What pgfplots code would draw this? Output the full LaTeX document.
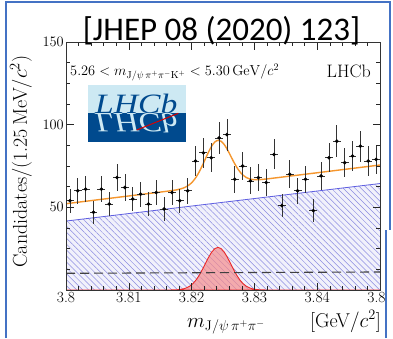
\documentclass[border=0pt]{standalone}
\usepackage{fontspec}
\usepackage{pgfplots}
\pgfplotsset{compat=1.18}
\usepackage{pgfplotstable}
\usetikzlibrary{patterns.meta}
\newfontfamily\titlefont{Carlito}
\newfontfamily\logofont{Liberation Serif}
\definecolor{framblue}{RGB}{68,114,196}
\definecolor{fitorange}{RGB}{245,150,45}
\definecolor{bkgblue}{RGB}{95,95,225}
\definecolor{hatchblue}{RGB}{140,140,225}
\definecolor{sigred}{RGB}{235,40,40}
\definecolor{sigfill}{RGB}{245,140,140}
\definecolor{logolight}{RGB}{205,233,243}
\definecolor{logodark}{RGB}{0,74,142}

\pgfplotstableread{
x y ey
3.800625 54 7.3
3.801875 60 7.7
3.803125 61 7.8
3.804375 47 6.9
3.805625 61 7.8
3.806875 52 7.2
3.808125 68 8.2
3.809375 62 7.9
3.810625 55 7.4
3.811875 58 7.6
3.813125 52 7.2
3.814375 59 7.7
3.815625 49 7.0
3.816875 59 7.7
3.818125 54 7.3
3.819375 60 7.7
3.820625 78 8.8
3.821875 83 9.1
3.823125 80 8.9
3.824375 92 9.6
3.825625 94 9.7
3.826875 67 8.2
3.828125 75 8.7
3.829375 66 8.1
3.830625 68 8.2
3.831875 65 8.1
3.833125 82 9.1
3.834375 51 7.1
3.835625 70 8.4
3.836875 60 7.7
3.838125 67 8.2
3.839375 48 6.9
3.840625 69 8.3
3.841875 80 8.9
3.843125 90 9.5
3.844375 77 8.8
3.845625 81 9.0
3.846875 87 9.3
3.848125 78 8.8
3.849375 79 8.9
}\datatable

\begin{document}
\begin{tikzpicture}
\useasboundingbox (0,0) rectangle (393pt,338pt);
\fill[white] (0,0) rectangle (393pt,338pt);
\begin{axis}[
  at={(66pt,48pt)}, anchor=south west,
  scale only axis, width=314pt, height=248pt,
  xmin=3.8, xmax=3.85, ymin=0, ymax=150,
  xtick={3.80,3.81,3.82,3.83,3.84,3.85},
  xticklabels={3.8,3.81,3.82,3.83,3.84,3.85},
  minor x tick num=4,
  ytick={50,100,150},
  minor ytick={12.5,25,37.5,62.5,75,87.5,112.5,125,137.5},
  tick align=inside, tick pos=both,
  major tick length=7.5pt, minor tick length=4pt,
  every tick/.style={black!85, line width=0.5pt},
  axis line style={line width=0.8pt, black!80},
  ticklabel style={font=\fontsize{15.5}{17}\selectfont},
  xticklabel style={inner sep=2pt},
  yticklabel style={inner sep=2pt},
  axis on top,
]
\addplot[draw=none, fill=hatchblue!12] coordinates {(3.80,41.7) (3.85,64.4)} \closedcycle;
\addplot[draw=none, pattern={Lines[angle=-45,distance=4.2pt,line width=0.5pt]}, pattern color=hatchblue]
  coordinates {(3.80,41.7) (3.85,64.4)} \closedcycle;
\addplot[bkgblue, line width=0.8pt] coordinates {(3.80,41.7) (3.85,64.4)};
\addplot[sigred, line width=0.9pt, fill=sigfill, fill opacity=0.7] coordinates {
(3.8000,0) (3.8142,0) (3.8162,0.01) (3.8167,0.03) (3.8172,0.08) (3.8177,0.17) (3.8182,0.36)
(3.8187,0.71) (3.8192,1.32) (3.8197,2.32) (3.8202,3.85) (3.8207,6.01) (3.8212,8.84)
(3.8217,12.27) (3.8222,16.03) (3.8227,19.74) (3.8232,22.91) (3.8237,25.04) (3.8242,25.80)
(3.8247,25.04) (3.8252,22.91) (3.8257,19.74) (3.8262,16.03) (3.8267,12.27) (3.8272,8.84)
(3.8277,6.01) (3.8282,3.85) (3.8287,2.32) (3.8292,1.32) (3.8297,0.71) (3.8302,0.36)
(3.8307,0.17) (3.8312,0.08) (3.8317,0.03) (3.8322,0.01) (3.8342,0) (3.8500,0)} \closedcycle;
\addplot[black!75, line width=1.1pt, dash pattern=on 9pt off 5pt] coordinates {(3.80,10.1) (3.85,10.9)};
\addplot[fitorange, line width=1.4pt, smooth] coordinates {
(3.8000,52.20) (3.8050,54.54) (3.8100,56.88) (3.8140,58.75) (3.8162,59.79) (3.8167,60.05)
(3.8172,60.33) (3.8177,60.65) (3.8182,61.10) (3.8187,61.68) (3.8192,62.57) (3.8197,63.84)
(3.8202,65.67) (3.8207,68.18) (3.8212,71.37) (3.8217,75.20) (3.8222,79.36) (3.8227,83.48)
(3.8232,87.03) (3.8237,89.50) (3.8242,90.53) (3.8247,89.97) (3.8252,87.96) (3.8257,84.89)
(3.8262,81.23) (3.8267,77.54) (3.8272,74.18) (3.8277,71.45) (3.8282,69.42) (3.8287,68.05)
(3.8292,67.25) (3.8297,66.83) (3.8302,66.71) (3.8307,66.74) (3.8312,66.88) (3.8317,67.07)
(3.8322,67.27) (3.8400,70.92) (3.8500,75.60)};
\addplot[black, only marks, mark=*, mark size=1.6pt,
  error bars/.cd, y dir=both, y explicit, x dir=both, x fixed=0.000625,
  error mark=none, error bar style={line width=0.7pt, black!80}]
  table[x=x, y=y, y error=ey] {\datatable};
\end{axis}
% logo
\fill[logolight] (88pt,225pt) rectangle (186pt,253pt);
\fill[logodark] (88pt,196pt) rectangle (186pt,225pt);
\node[anchor=base west, inner sep=0pt, text=logodark, font=\logofont\itshape\fontsize{28}{30}\selectfont, xscale=1.2] at (95pt,225pt) {LHCb};
\node[anchor=base west, inner sep=0pt, text=logolight, font=\logofont\itshape\fontsize{28}{30}\selectfont, xscale=1.2, yscale=-1] at (95pt,225pt) {LHCb};
\draw[red!85!black, line width=1pt] (136.7pt,208pt) -- (178.3pt,224.7pt);
% texts
\node[anchor=base west, inner sep=0pt, font=\fontsize{14.5}{16}\selectfont] at (70pt,262pt) {$5.26 < m_{\mathrm{J}/\psi\,\pi^+\pi^-\mathrm{K}^+} < 5.30\,\mathrm{GeV}/c^2$};
\node[anchor=base east, inner sep=0pt, font=\fontsize{18}{20}\selectfont] at (371pt,261pt) {LHCb};
\node[anchor=base, inner sep=0pt, font=\titlefont\fontsize{33}{36}\selectfont] at (221.5pt,297.3pt) {[JHEP 08 (2020) 123]};
\node[anchor=base, inner sep=0pt, rotate=90, font=\fontsize{20}{22}\selectfont] at (27pt,176.5pt) {Candidates/(1.25\,MeV/$c^2$)};
\node[anchor=base west, inner sep=0pt, font=\fontsize{20}{22}\selectfont] at (187pt,11pt) {$m_{\mathrm{J}/\psi\,\pi^+\pi^-}$};
\node[anchor=base east, inner sep=0pt, font=\fontsize{20}{22}\selectfont] at (381pt,11pt) {[GeV$/c^2$]};
% frame of the screenshot
\fill[white] (387pt,0pt) rectangle (393pt,108pt);
\draw[framblue, line width=2pt] (6pt,0pt) -- (6pt,335.5pt) -- (390pt,335.5pt) -- (390pt,108pt);
\draw[framblue, line width=2pt] (386pt,0pt) -- (386pt,108pt);
\end{tikzpicture}
\end{document}
